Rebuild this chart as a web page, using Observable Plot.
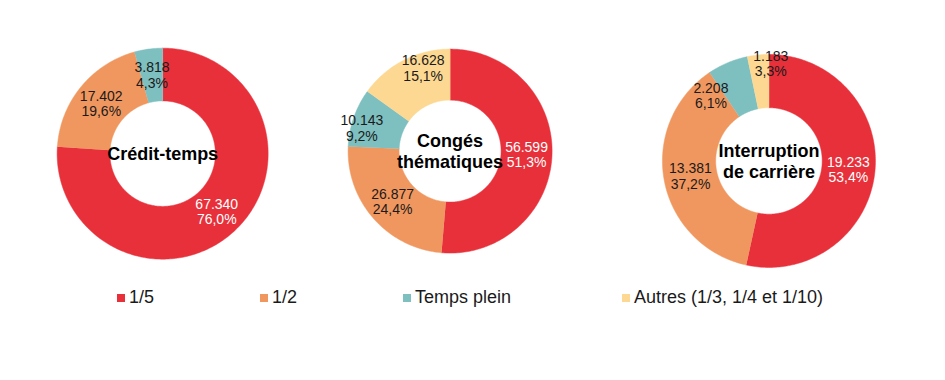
<!DOCTYPE html>
<html>
<head>
<meta charset="utf-8">
<script src="https://cdn.jsdelivr.net/npm/d3@7"></script>
<script src="https://cdn.jsdelivr.net/npm/@observablehq/plot@0.6"></script>
<style>
  body { margin: 0; background: #fff; font-family: "Liberation Sans", Arial, sans-serif; }
  #root { position: relative; width: 945px; height: 380px; overflow: hidden; }
  .donut { position: absolute; }
  .legend-item { position: absolute; top: 287px; display: flex; align-items: center; font-size: 18px; color: #1a1a1a; white-space: nowrap; }
  .legend-item .sw { width: 8px; height: 8px; margin-right: 4px; }
</style>
</head>
<body>
<div id="root"></div>
<script>
// ---- data ----
const categories = ["1/5", "1/2", "Temps plein", "Autres (1/3, 1/4 et 1/10)"];
const colors = ["#e8303a", "#f0975f", "#7ebfbf", "#fdd892"];
const chartTitles = ["Crédit-temps", "Congés\nthématiques", "Interruption\nde carrière"];
const creditTemps = [67340, 17402, 3818, 0];
const congesThematiques = [56599, 26877, 10143, 16628];
const interruptionCarriere = [19233, 13381, 2208, 1183];

// ---- layout (pixels) ----
const layout = [
  {cx: 162, cy: 153.5, r: 105.5},
  {cx: 450, cy: 151, r: 102},
  {cx: 768, cy: 160.5, r: 106.5}
];
// manual label displacement (pixels, dx right / dy down) per chart & category
const labelNudge = [
  [[0, 0], [0, 0], [0, 0], [0, 0]],
  [[0, 0], [0, 0], [-16, 2], [8, -15]],
  [[0, 0], [0, 0], [-27, 8], [10, -18]]
];
const legendLeft = [117, 260, 403, 622];
const innerRatio = 0.5;
const D = 1.3;

const locale = d3.formatLocale({decimal: ",", thousands: ".", grouping: [3], currency: ["", "€"]});
const fmtN = locale.format(",d");
const fmtP = locale.format(".1f");

const root = document.getElementById("root");
const series = [creditTemps, congesThematiques, interruptionCarriere];

series.forEach((vals, ci) => {
  const L = layout[ci];
  const total = d3.sum(vals);
  const slices = [];
  let acc = 0;
  vals.forEach((v, i) => {
    const a0 = acc / total * 2 * Math.PI;
    acc += v;
    const a1 = acc / total * 2 * Math.PI;
    if (v > 0) slices.push({cat: categories[i], idx: i, value: v, a0, a1});
  });
  const pts = [];
  slices.forEach(s => {
    const n = Math.max(2, Math.ceil((s.a1 - s.a0) / (Math.PI / 180)));
    for (let k = 0; k <= n; k++) {
      const a = s.a0 + (s.a1 - s.a0) * k / n;
      pts.push({cat: s.cat, x: Math.sin(a), y: Math.cos(a)});
    }
    for (let k = n; k >= 0; k--) {
      const a = s.a0 + (s.a1 - s.a0) * k / n;
      pts.push({cat: s.cat, x: innerRatio * Math.sin(a), y: innerRatio * Math.cos(a)});
    }
  });
  const rm = (1 + innerRatio) / 2;
  const labels = slices.map(s => {
    const a = (s.a0 + s.a1) / 2;
    const [dx, dy] = labelNudge[ci][s.idx];
    return {
      x: rm * Math.sin(a) + dx / L.r, y: rm * Math.cos(a) - dy / L.r,
      text: fmtN(s.value) + "\n" + fmtP(s.value / total * 100) + "%",
      color: s.idx === 0 ? "#ffffff" : "#1a1a1a"
    };
  });
  const S = 2 * D * L.r;
  const plot = Plot.plot({
    width: S, height: S,
    margin: 0,
    x: {domain: [-D, D], axis: null},
    y: {domain: [-D, D], axis: null},
    color: {domain: categories, range: colors},
    style: {fontFamily: "'Liberation Sans', Arial, sans-serif", background: "transparent", overflow: "visible"},
    marks: [
      Plot.line(pts, {x: "x", y: "y", z: "cat", fill: "cat", stroke: "cat", strokeWidth: 0.5, curve: "linear"}),
      Plot.text(labels, {x: "x", y: "y", text: "text", fill: d => d.color, fontSize: 14, lineHeight: 1.1}),
      Plot.text([chartTitles[ci]], {x: () => 0, y: () => 0, text: d => d, fontSize: 18, fontWeight: "bold", fill: "#000", lineHeight: 1.15})
    ]
  });
  const wrap = document.createElement("div");
  wrap.className = "donut";
  wrap.style.left = (L.cx - S / 2) + "px";
  wrap.style.top = (L.cy - S / 2) + "px";
  wrap.appendChild(plot);
  root.appendChild(wrap);
});

// legend
categories.forEach((c, i) => {
  const item = document.createElement("div");
  item.className = "legend-item";
  item.style.left = legendLeft[i] + "px";
  const sw = document.createElement("span");
  sw.className = "sw";
  sw.style.background = colors[i];
  const t = document.createElement("span");
  t.textContent = c;
  item.appendChild(sw);
  item.appendChild(t);
  root.appendChild(item);
});
</script>
</body>
</html>
